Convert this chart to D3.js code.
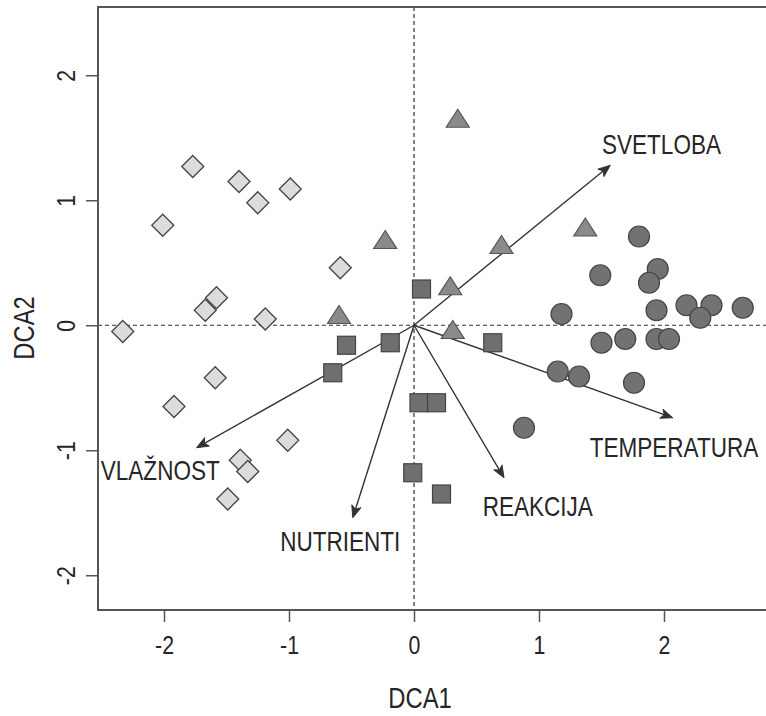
<!DOCTYPE html>
<html>
<head>
<meta charset="utf-8">
<script src="https://cdn.jsdelivr.net/npm/d3@7"></script>
<style>
body { margin:0; background:#ffffff; }
svg text { font-family:"Liberation Sans", Arial, sans-serif; fill:#262626; }
</style>
</head>
<body>
<svg id="graph"></svg>
<script>
// site scores (DCA1, DCA2), one array per group
var diamondX = [-1.77,-1.40,-1.25,-0.99,-2.01,-0.59,-1.58,-1.67,-1.19,-2.33,-1.59,-1.92,-1.01,-1.39,-1.33,-1.49]
var diamondY = [1.27,1.15,0.98,1.09,0.80,0.46,0.22,0.12,0.05,-0.05,-0.42,-0.65,-0.92,-1.08,-1.17,-1.39]

var triangleX = [-0.23,-0.60,0.35,0.70,1.37,0.29,0.31]
var triangleY = [0.67,0.07,1.64,0.63,0.77,0.30,-0.05]

var squareX = [0.06,0.63,-0.19,-0.54,-0.65,0.04,0.18,-0.01,0.22]
var squareY = [0.29,-0.14,-0.14,-0.16,-0.38,-0.62,-0.62,-1.18,-1.35]

var circleX = [1.80,1.95,1.88,1.49,1.18,1.94,2.18,2.38,2.29,2.63,1.50,1.69,1.94,2.04,1.15,1.32,1.76,0.88]
var circleY = [0.71,0.45,0.34,0.40,0.09,0.12,0.16,0.16,0.06,0.14,-0.14,-0.11,-0.11,-0.11,-0.37,-0.41,-0.46,-0.82]

// environmental vectors
var envNames = ["SVETLOBA","TEMPERATURA","REAKCIJA","NUTRIENTI","VLAŽNOST"]
var envX = [1.57,2.07,0.72,-0.49,-1.74]
var envY = [1.28,-0.74,-1.22,-1.54,-0.98]
// label positions (in axis units)
var labelX = [1.98,2.08,0.99,-0.59,-2.03]
var labelY = [1.45,-0.98,-1.45,-1.73,-1.16]

var xTicks = [-2,-1,0,1,2]
var yTicks = [-2,-1,0,1,2]

var screen = {width:766,height:716}
var plot = {left:98,right:766,top:7,bottom:610}

var svg = d3.select("#graph")
    .attr("width",screen.width)
    .attr("height",screen.height)

var xscale = d3.scaleLinear()
    .domain([-2.528,2.816])
    .range([plot.left,plot.right])

var yscale = d3.scaleLinear()
    .domain([-2.278,2.546])
    .range([plot.bottom,plot.top])

var zip = function(xs,ys)
{
    return xs.map(function(x,i){ return {x:x,y:ys[i]} })
}

// dashed zero lines
svg.append("line")
    .attr("x1",xscale(0)).attr("x2",xscale(0))
    .attr("y1",plot.top).attr("y2",plot.bottom)
    .attr("stroke","#333").attr("stroke-width",1.2)
    .attr("stroke-dasharray","4,3")
svg.append("line")
    .attr("x1",plot.left).attr("x2",plot.right)
    .attr("y1",yscale(0)).attr("y2",yscale(0))
    .attr("stroke","#333").attr("stroke-width",1.2)
    .attr("stroke-dasharray","4,3")

// axes
var xAxis = svg.append("g")
    .attr("transform","translate(0,"+plot.bottom+")")
    .call(d3.axisBottom(xscale).tickValues(xTicks).tickSize(12).tickFormat(d3.format("d")))
xAxis.select(".domain").remove()
xAxis.selectAll("line").attr("stroke","#555").attr("stroke-width",1.5)
xAxis.selectAll("text")
    .attr("y",null)
    .attr("transform","translate(0,35) scale(0.82,1)")
    .attr("dy","0.35em")
    .style("font-size","26px")
    .attr("fill","#262626")
    .text(function(d){ return d < 0 ? "-"+Math.abs(d) : d })

var yAxis = svg.append("g")
    .attr("transform","translate("+plot.left+",0)")
    .call(d3.axisLeft(yscale).tickValues(yTicks).tickSize(12).tickFormat(d3.format("d")))
yAxis.select(".domain").remove()
yAxis.selectAll("line").attr("stroke","#555").attr("stroke-width",1.5)
yAxis.selectAll("text")
    .attr("x",null)
    .attr("transform","translate(-32,0) rotate(-90) scale(0.82,1)")
    .attr("text-anchor","middle")
    .attr("dy","0.35em")
    .style("font-size","26px")
    .attr("fill","#262626")
    .text(function(d){ return d < 0 ? "-"+Math.abs(d) : d })

// box
svg.append("rect")
    .attr("x",plot.left).attr("y",plot.top)
    .attr("width",plot.right-plot.left+4).attr("height",plot.bottom-plot.top)
    .attr("fill","none").attr("stroke","#555").attr("stroke-width",2)

// axis titles
svg.append("text")
    .attr("transform","translate(420,698) scale(0.82,1)")
    .attr("text-anchor","middle").attr("dy","0.35em")
    .style("font-size","29px")
    .text("DCA1")
svg.append("text")
    .attr("transform","translate(24,328) rotate(-90) scale(0.82,1)")
    .attr("text-anchor","middle").attr("dy","0.35em")
    .style("font-size","29px")
    .text("DCA2")

// arrows
var origin = {x:xscale(0),y:yscale(0)}
var arrows = svg.append("g")
envX.forEach(function(ex,i)
{
    var tx = xscale(ex), ty = yscale(envY[i])
    var ang = Math.atan2(ty-origin.y,tx-origin.x)
    arrows.append("line")
        .attr("x1",origin.x).attr("y1",origin.y)
        .attr("x2",tx-4*Math.cos(ang)).attr("y2",ty-4*Math.sin(ang))
        .attr("stroke","#333").attr("stroke-width",1.4)
    var len = 13, wing = 0.38
    var p1 = [tx-len*Math.cos(ang-wing), ty-len*Math.sin(ang-wing)]
    var p2 = [tx-len*Math.cos(ang+wing), ty-len*Math.sin(ang+wing)]
    var pm = [tx-9*Math.cos(ang), ty-9*Math.sin(ang)]
    arrows.append("path")
        .attr("d","M"+p1+"L"+tx+","+ty+"L"+p2+"L"+pm+"Z")
        .attr("fill","#333").attr("stroke","#333").attr("stroke-width",1)
})

// points
var stroke = "#444"
svg.append("g").selectAll("path")
    .data(zip(diamondX,diamondY))
    .enter().append("path")
    .attr("transform",function(d){ return "translate("+xscale(d.x)+","+yscale(d.y)+")" })
    .attr("d","M0,-11L11,0L0,11L-11,0Z")
    .attr("fill","#dcdcdc").attr("stroke",stroke).attr("stroke-width",1.3)

svg.append("g").selectAll("path")
    .data(zip(triangleX,triangleY))
    .enter().append("path")
    .attr("transform",function(d){ return "translate("+xscale(d.x)+","+yscale(d.y)+")" })
    .attr("d","M0,-11L11.5,7L-11.5,7Z")
    .attr("fill","#8a8a8a").attr("stroke","#555").attr("stroke-width",1.2)

svg.append("g").selectAll("rect")
    .data(zip(squareX,squareY))
    .enter().append("rect")
    .attr("x",function(d){ return xscale(d.x)-9 })
    .attr("y",function(d){ return yscale(d.y)-9 })
    .attr("width",18).attr("height",18)
    .attr("fill","#6f6f6f").attr("stroke",stroke).attr("stroke-width",1.2)

svg.append("g").selectAll("circle")
    .data(zip(circleX,circleY))
    .enter().append("circle")
    .attr("cx",function(d){ return xscale(d.x) })
    .attr("cy",function(d){ return yscale(d.y) })
    .attr("r",10.5)
    .attr("fill","#727272").attr("stroke",stroke).attr("stroke-width",1.2)

// vector labels
svg.append("g").selectAll("text")
    .data(envNames)
    .enter().append("text")
    .attr("transform",function(d,i){ return "translate("+xscale(labelX[i])+","+yscale(labelY[i])+") scale(0.82,1)" })
    .attr("text-anchor","middle").attr("dy","0.35em")
    .style("font-size","27.5px")
    .text(function(d){ return d })
</script>
</body>
</html>
